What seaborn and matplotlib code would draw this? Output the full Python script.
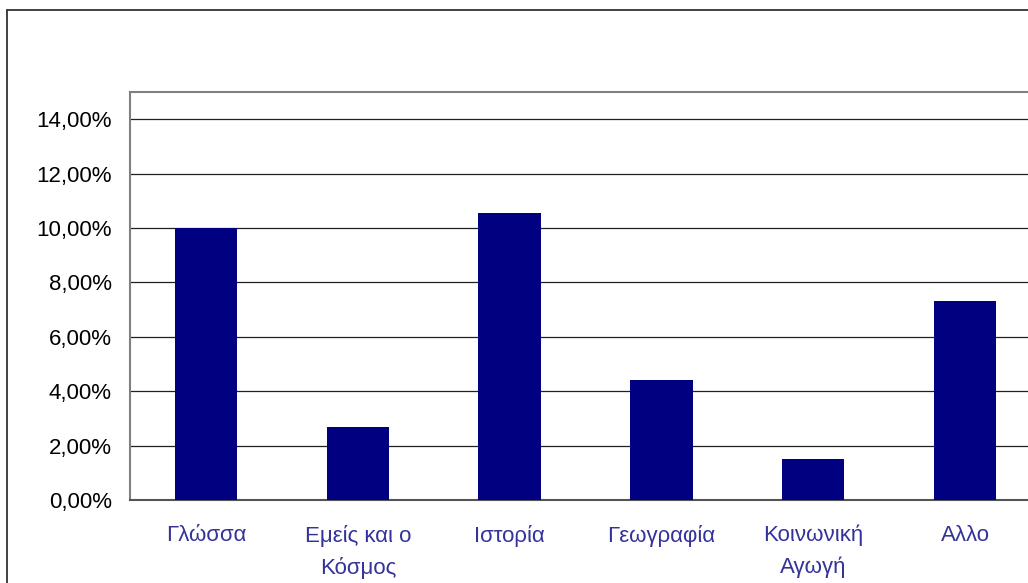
import matplotlib
matplotlib.use("Agg")
import matplotlib.pyplot as plt
import seaborn as sns
import pandas as pd
from matplotlib.ticker import FuncFormatter
from matplotlib.lines import Line2D

# data (percent)
subjects = ["Γλώσσα", "Εμείς και ο\nΚόσμος", "Ιστορία", "Γεωγραφία", "Κοινωνική\nΑγωγή", "Αλλο"]
shares = [10.0, 2.68, 10.55, 4.41, 1.51, 7.32]

df = pd.DataFrame({"subject": subjects, "share": shares})

sns.set_style("white")
plt.rcParams["font.family"] = ["Liberation Sans", "DejaVu Sans"]

fig = plt.figure(figsize=(10.28, 5.83), dpi=100)
W, H = 1028, 583
ax = fig.add_axes([130 / W, 1 - 500 / H, (1041 - 130) / W, (500 - 92) / H])

sns.barplot(data=df, x="subject", y="share", color="#000080", saturation=1,
            width=0.41, linewidth=0, edgecolor="#000080", ax=ax, zorder=3)

ax.set_ylim(0, 15)
ax.set_xlim(-0.5, len(subjects) - 0.5)
ax.set_yticks(range(0, 15, 2))
ax.yaxis.set_major_formatter(FuncFormatter(lambda v, p: f"{v:.2f}%".replace(".", ",")))
ax.yaxis.grid(True, color="#202020", linewidth=0.9, zorder=0)
ax.set_axisbelow(True)

# ticks between categories, labels centred
ax.set_xticks([i - 0.5 for i in range(len(subjects) + 1)])
ax.set_xticklabels([])
ax.set_xticks(range(len(subjects)), minor=True)
ax.set_xticklabels(subjects, minor=True, color="#333399", fontsize=16, linespacing=1.6)
ax.tick_params(axis="x", which="minor", length=0, pad=18)
ax.tick_params(axis="x", which="major", length=7, width=1, color="#555555", direction="out")
ax.tick_params(axis="y", length=7, width=1, color="#555555", direction="out",
               labelsize=16, pad=6)
for lbl in ax.get_yticklabels():
    lbl.set_color("black")

for s in ax.spines.values():
    s.set_visible(True)
    s.set_color("#808080")
    s.set_linewidth(1.5)
ax.spines["bottom"].set_color("#555555")

ax.set_xlabel("")
ax.set_ylabel("")

# outer chart border (cut by the image edges)
fig.add_artist(Line2D([7 / W, 7 / W], [1 - 10 / H, -0.1], color="#333333", linewidth=1.3,
                      transform=fig.transFigure))
fig.add_artist(Line2D([7 / W, 1.1], [1 - 10 / H, 1 - 10 / H], color="#333333", linewidth=1.3,
                      transform=fig.transFigure))

fig.savefig("out.png", dpi=100)
